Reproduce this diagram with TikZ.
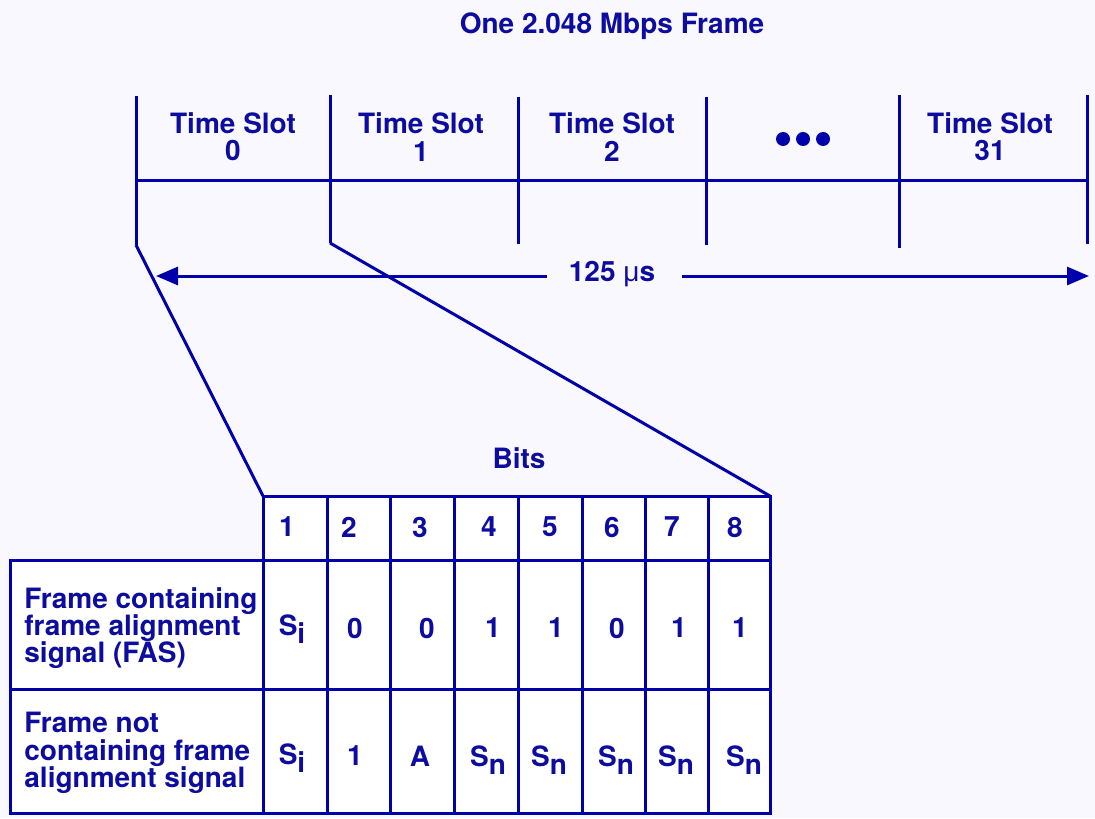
\documentclass[tikz,border=0pt]{standalone}
\usepackage{fontspec}
\setmainfont{TeX Gyre Heros}
\newfontfamily\mufont{Liberation Sans}
\usetikzlibrary{arrows.meta}
\definecolor{bg}{RGB}{250,248,255}
\definecolor{ink}{RGB}{0,0,170}
\definecolor{txt}{RGB}{12,12,160}
\newcommand\sub[1]{\raisebox{-0.3em}{#1}}
\begin{document}
\begin{tikzpicture}[x=0.5pt,y=-0.5pt,
  inkline/.style={draw=ink, line width=1.5pt},
  lbl/.style={font=\bfseries\fontsize{14}{13.6}\selectfont, text=txt, inner sep=0pt, align=center},
  leftlbl/.style={lbl, align=left, anchor=west},
  arr/.style={inkline, -{Triangle[length=11pt,width=9pt]}},
  bigdot/.style={circle, fill=ink, inner sep=0pt, minimum size=7pt}]
\fill[bg] (0,0) rectangle (1095,818);
\useasboundingbox (0,0) rectangle (1095,818);

% title
\node[lbl] (title) at (612,26) {One 2.048 Mbps Frame};

% frame boundaries
\coordinate (t0) at (136,96);  \coordinate (b0) at (136,245);
\coordinate (t1) at (330,95);  \coordinate (b1) at (330,243);
\coordinate (t2) at (518,97);  \coordinate (b2) at (518,244);
\coordinate (t3) at (706,97);  \coordinate (b3) at (706,245);
\coordinate (t4) at (899,95);  \coordinate (b4) at (899,248);
\coordinate (t5) at (1087,95); \coordinate (b5) at (1087,244);
\coordinate (h0) at (136,181); \coordinate (h1) at (1087,181);
\draw[inkline] (t0) -- (b0);
\draw[inkline] (t1) -- (b1);
\draw[inkline] (t2) -- (b2);
\draw[inkline] (t3) -- (b3);
\draw[inkline] (t4) -- (b4);
\draw[inkline] (t5) -- (b5);
\draw[inkline] (h0) -- (h1);

% slot labels
\node[lbl] (s0) at (233,137) {Time Slot\\0};
\node[lbl] (s1) at (421,137) {Time Slot\\1};
\node[lbl] (s2) at (612,137) {Time Slot\\2};
\node[bigdot] (d1) at (783,139) {};
\node[bigdot] (d2) at (803,139) {};
\node[bigdot] (d3) at (823,139) {};
\node[lbl] (s31) at (990,137) {Time Slot\\31};

% duration arrow
\node[lbl] (dur) at (612,274) {125 {\mdseries\mufont μ}s};
\coordinate (al) at (156,276);
\coordinate (ar) at (1089,276);
\coordinate (alx) at (547,276);
\coordinate (arx) at (682,276);
\draw[arr] (alx) -- (al);
\draw[arr] (arx) -- (ar);

% table
\coordinate (tnw) at (263,496);
\coordinate (tne) at (770,496);
\fill[white] (263,496) rectangle (770,813);
\fill[white] (10,560) rectangle (263,813);
\draw[inkline] (b0) -- (tnw);
\draw[inkline] (b1) -- (tne);
\foreach \x in {327,390,454,518,582,645,708}
  \draw[inkline] (\x,496) -- (\x,813);
\draw[inkline] (263,496) -- (263,813);
\draw[inkline] (263,496) -- (770,496) -- (770,813) -- (10,813) -- (10,560) -- (770,560);
\draw[inkline] (10,689) -- (770,689);

\node[lbl] (bits) at (519,458) {Bits};

% header
\node[lbl] (c1) at (287,527) {1};
\node[lbl] (c2) at (349,527) {2};
\node[lbl] (c3) at (420,527) {3};
\node[lbl] (c4) at (489,527) {4};
\node[lbl] (c5) at (550,527) {5};
\node[lbl] (c6) at (612,527) {6};
\node[lbl] (c7) at (672,527) {7};
\node[lbl] (c8) at (735,527) {8};

% row 1
\node[leftlbl] (r1) at (24,628) {Frame containing\\frame alignment\\signal (FAS)};
\node[lbl] (r1c1) at (292,629) {S\sub{i}};
\node[lbl] (r1c2) at (355,628) {0};
\node[lbl] (r1c3) at (427,628) {0};
\node[lbl] (r1c4) at (493,628) {1};
\node[lbl] (r1c5) at (556,628) {1};
\node[lbl] (r1c6) at (617,628) {0};
\node[lbl] (r1c7) at (679,628) {1};
\node[lbl] (r1c8) at (740,628) {1};

% row 2
\node[leftlbl] (r2) at (24,753) {Frame not\\containing frame\\alignment signal};
\node[lbl] (r2c1) at (292,758) {S\sub{i}};
\node[lbl] (r2c2) at (355,756) {1};
\node[lbl] (r2c3) at (420,756) {A};
\node[lbl] (r2c4) at (488,760) {S\sub{n}};
\node[lbl] (r2c5) at (549,760) {S\sub{n}};
\node[lbl] (r2c6) at (616,760) {S\sub{n}};
\node[lbl] (r2c7) at (676,760) {S\sub{n}};
\node[lbl] (r2c8) at (744,760) {S\sub{n}};
\end{tikzpicture}
\end{document}
